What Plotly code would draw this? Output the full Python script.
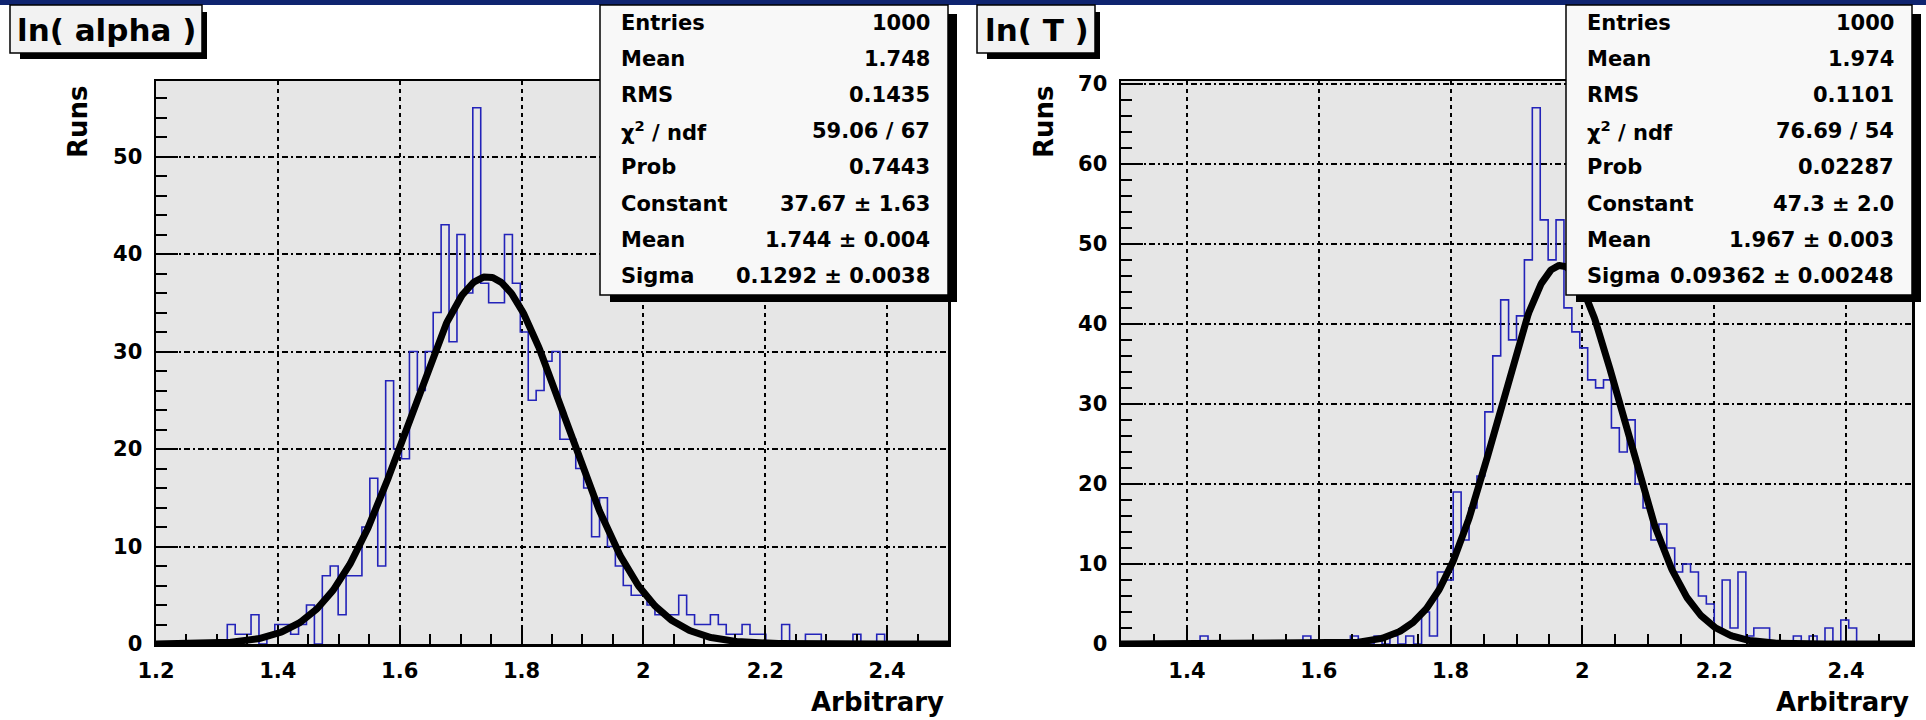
import numpy as np
import plotly.graph_objects as go

W, H = 1926, 720

# ---- ln(alpha): 100 bins on [1.2, 2.5] ----
alpha_range = (1.2, 2.5)
alpha_counts = [
    0, 0, 0, 0, 0, 0, 0, 0, 0, 2,
    1, 1, 3, 0, 1, 2, 2, 1, 2, 4,
    0, 7, 8, 3, 7, 7, 12, 17, 8, 27,
    20, 19, 30, 26, 30, 34, 43, 31, 42, 36,
    55, 37, 35, 35, 42, 37, 32, 25, 26, 29,
    30, 21, 21, 18, 16, 11, 15, 10, 8, 6,
    5, 5, 4, 3, 3, 3, 5, 3, 2, 2,
    3, 2, 1, 1, 2, 1, 1, 0, 0, 2,
    0, 0, 1, 1, 0, 0, 0, 0, 1, 0,
    0, 1, 0, 0, 0, 0, 0, 0, 0, 0,
]
alpha_const, alpha_mean, alpha_sigma = 37.67, 1.744, 0.1292
alpha_xticks = [1.2, 1.4, 1.6, 1.8, 2.0, 2.2, 2.4]
alpha_xlabels = ["1.2", "1.4", "1.6", "1.8", "2", "2.2", "2.4"]
alpha_yticks = [0, 10, 20, 30, 40, 50]
alpha_stat_names = ["Entries", "Mean", "RMS", "χ<sup>2</sup> / ndf", "Prob",
                    "Constant", "Mean", "Sigma"]
alpha_stat_values = ["1000", "1.748", "0.1435", "59.06 / 67", "0.7443",
                     "37.67 ± 1.63", "1.744 ± 0.004", "0.1292 ± 0.0038"]

# ---- ln(T): 100 bins on [1.3, 2.5] ----
T_range = (1.3, 2.5)
T_counts = [
    0, 0, 0, 0, 0, 0, 0, 0, 0, 0,
    1, 0, 0, 0, 0, 0, 0, 0, 0, 0,
    0, 0, 0, 1, 0, 0, 0, 0, 0, 1,
    0, 0, 1, 0, 1, 0, 1, 0, 4, 1,
    9, 8, 19, 13, 17, 21, 29, 36, 43, 38,
    41, 48, 67, 53, 48, 53, 42, 39, 37, 33,
    32, 33, 27, 24, 28, 20, 17, 13, 15, 12,
    9, 10, 9, 6, 5, 2, 8, 2, 9, 1,
    2, 2, 0, 0, 0, 1, 0, 1, 0, 2,
    0, 3, 2, 0, 0, 0, 0, 0, 0, 0,
]
T_const, T_mean, T_sigma = 47.3, 1.967, 0.09362
T_xticks = [1.4, 1.6, 1.8, 2.0, 2.2, 2.4]
T_xlabels = ["1.4", "1.6", "1.8", "2", "2.2", "2.4"]
T_yticks = [0, 10, 20, 30, 40, 50, 60, 70]
T_stat_names = ["Entries", "Mean", "RMS", "χ<sup>2</sup> / ndf", "Prob",
                "Constant", "Mean", "Sigma"]
T_stat_values = ["1000", "1.974", "0.1101", "76.69 / 54", "0.02287",
                 "47.3 ± 2.0", "1.967 ± 0.003", "0.09362 ± 0.00248"]

HIST_COLOR = "rgb(35,35,185)"
FRAME_FILL = "#e6e6e6"
FONT = "DejaVu Sans"


def step_trace(counts, rng, xa, ya):
    n = len(counts)
    edges = np.linspace(rng[0], rng[1], n + 1)
    ys = list(counts) + [counts[-1]]
    return go.Scatter(x=edges, y=ys, mode="lines", line_shape="hv",
                      line=dict(color=HIST_COLOR, width=1.6),
                      xaxis=xa, yaxis=ya, hoverinfo="skip", showlegend=False)


def gauss_trace(c, m, s, rng, xa, ya):
    xs = np.linspace(rng[0], rng[1], 800)
    ys = c * np.exp(-0.5 * ((xs - m) / s) ** 2)
    return go.Scatter(x=xs, y=ys, mode="lines",
                      line=dict(color="black", width=7),
                      xaxis=xa, yaxis=ya, hoverinfo="skip", showlegend=False)


fig = go.Figure()
fig.add_trace(step_trace(alpha_counts, alpha_range, "x", "y"))
fig.add_trace(gauss_trace(alpha_const, alpha_mean, alpha_sigma, alpha_range, "x", "y"))
fig.add_trace(step_trace(T_counts, T_range, "x2", "y2"))
fig.add_trace(gauss_trace(T_const, T_mean, T_sigma, T_range, "x2", "y2"))

tick_font = dict(family=FONT, size=21, color="black", weight="bold")
y_dom = [1 - 644 / H, 1 - 81 / H]


def xcfg(dom_px, rng, tv, tt, anchor):
    return dict(domain=[dom_px[0] / W, dom_px[1] / W], range=list(rng), anchor=anchor,
                tickmode="array", tickvals=tv, ticktext=tt, automargin=False,
                ticks="inside", ticklen=18, tickwidth=2, tickcolor="black",
                minor=dict(tickmode="linear", tick0=rng[0], dtick=0.05, ticks="inside",
                           ticklen=10, tickwidth=2, tickcolor="black", showgrid=False),
                showgrid=True, gridcolor="black", gridwidth=2, griddash="4px,4px",
                showline=True, linecolor="black", linewidth=2.5, mirror=True,
                zeroline=False, tickfont=tick_font, ticklabelstandoff=6, fixedrange=True)


def ycfg(rng_max, tv, anchor):
    return dict(domain=y_dom, range=[0, rng_max], anchor=anchor,
                tickmode="array", tickvals=tv, ticktext=[str(v) for v in tv],
                automargin=False,
                ticks="inside", ticklen=22, tickwidth=2, tickcolor="black",
                minor=dict(tickmode="linear", tick0=0, dtick=2, ticks="inside",
                           ticklen=11, tickwidth=2, tickcolor="black", showgrid=False),
                showgrid=True, gridcolor="black", gridwidth=2, griddash="6px,3px,2px,3px",
                showline=True, linecolor="black", linewidth=2.5, mirror=True,
                zeroline=False, tickfont=tick_font, ticklabelstandoff=7, fixedrange=True)


shapes = []


def rect(x0, y0, x1, y1, fill, line_w=0, line_c="black"):
    shapes.append(dict(type="rect", xref="paper", yref="paper", layer="above",
                       x0=x0 / W, x1=x1 / W, y0=1 - y1 / H, y1=1 - y0 / H,
                       fillcolor=fill, line=dict(color=line_c, width=line_w)))


annotations = []


def text(t, x, y, size, xanchor="left", bold=True, angle=0):
    annotations.append(dict(text=t, x=x / W, y=1 - y / H, xref="paper", yref="paper",
                            xanchor=xanchor, yanchor="middle", showarrow=False,
                            textangle=angle,
                            font=dict(family=FONT, size=size, color="black",
                                      weight="bold" if bold else "normal")))


# top banner
rect(0, 0, W, 5, "#0f2470")

# titles with drop shadows
rect(20, 12, 207, 59, "black")
rect(10, 5, 202, 53, "#f2f2f2", 1.5)
text("ln( alpha )", 15, 30, 31)
rect(987, 12, 1100, 59, "black")
rect(977, 5, 1095, 53, "#f2f2f2", 1.5)
text("ln( T )", 983, 30, 31)

# statistics boxes
for (bx0, bx1, names, values) in [(600, 948, alpha_stat_names, alpha_stat_values),
                                  (1566, 1912, T_stat_names, T_stat_values)]:
    rect(bx0 + 10, 14, bx1 + 9, 302, "black")
    rect(bx0, 5, bx1, 295, "#f8f8f8", 1.5)
    for i, (nm, vl) in enumerate(zip(names, values)):
        yy = 22.5 + 36.2 * i
        text(nm, bx0 + 19, yy, 21)
        text(vl, bx1 - 16, yy, 21, xanchor="right")

# axis titles
text("Runs", 78, 122, 26, xanchor="center", angle=-90)
text("Runs", 1044, 122, 26, xanchor="center", angle=-90)
text("Arbitrary", 946, 702, 26, xanchor="right")
text("Arbitrary", 1911, 702, 26, xanchor="right")

fig.update_layout(
    width=W, height=H, autosize=False,
    margin=dict(l=0, r=0, t=0, b=0, pad=0, autoexpand=False),
    paper_bgcolor="white", plot_bgcolor=FRAME_FILL,
    showlegend=False,
    xaxis=xcfg((156, 948), alpha_range, alpha_xticks, alpha_xlabels, "y"),
    yaxis=ycfg(max(alpha_counts) * 1.05, alpha_yticks, "x"),
    xaxis2=xcfg((1121, 1912), T_range, T_xticks, T_xlabels, "y2"),
    yaxis2=ycfg(max(T_counts) * 1.05, T_yticks, "x2"),
    shapes=shapes, annotations=annotations,
)

# the page body gets no margin so the figure sits at the window's origin
fig.write_html("out.html", config=dict(displayModeBar=False, staticPlot=True),
               post_script="document.body.style.margin='0';"
                           "document.body.style.overflow='hidden';")
